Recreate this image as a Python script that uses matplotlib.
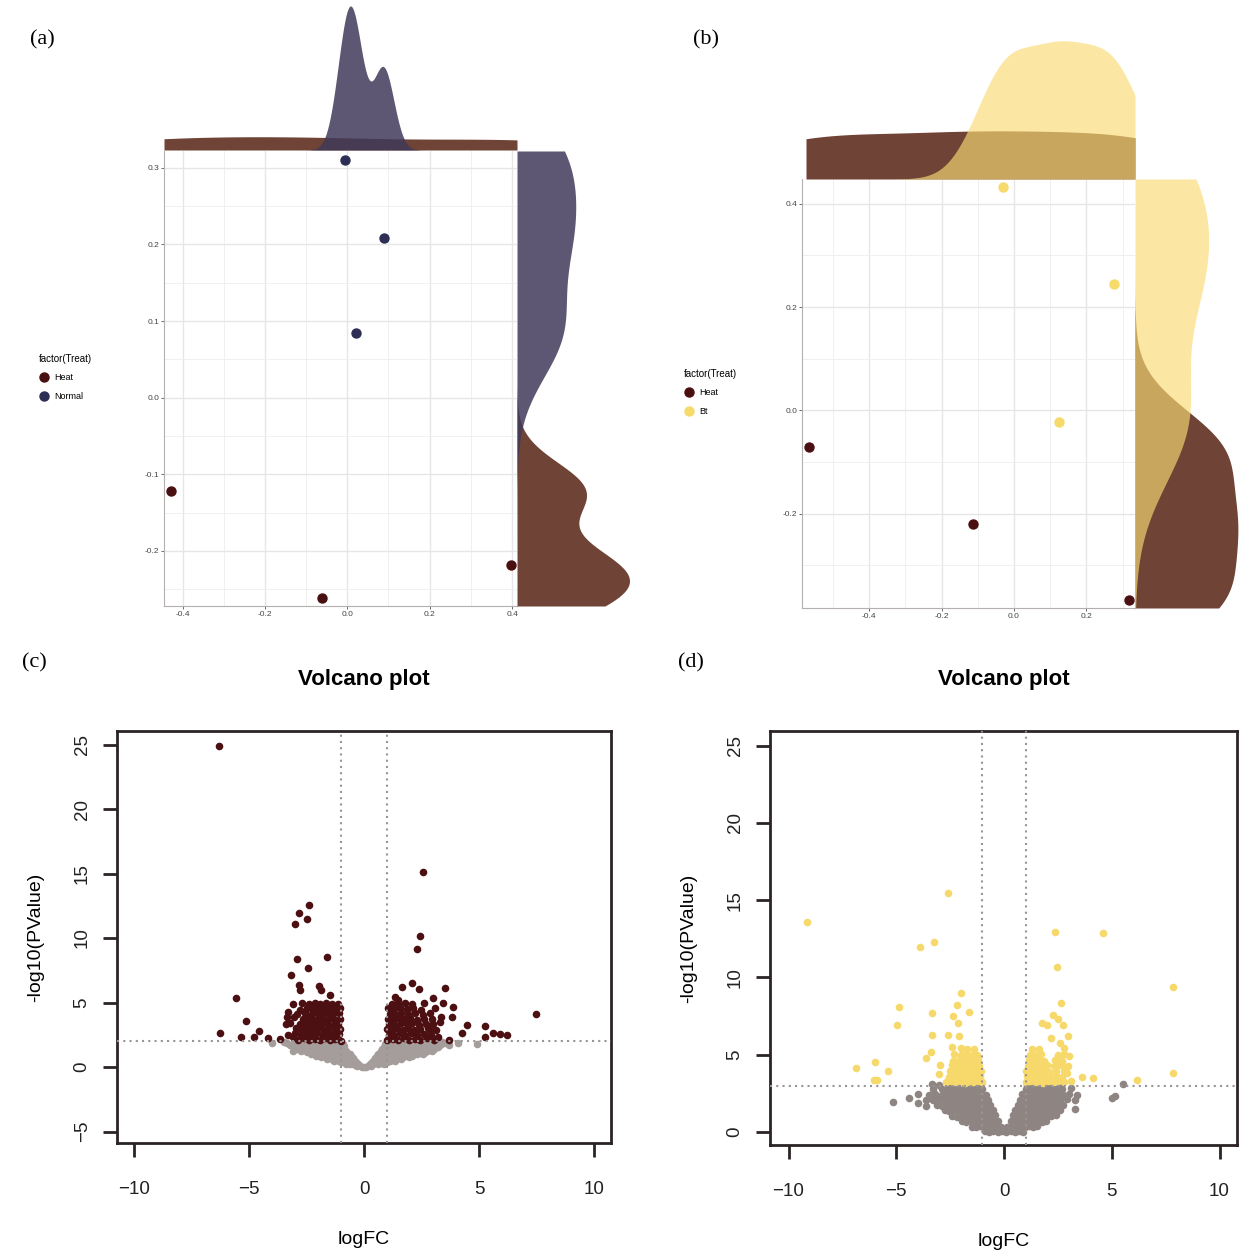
import numpy as np
import matplotlib
matplotlib.use("Agg")
import matplotlib.pyplot as plt
from matplotlib.lines import Line2D

plt.rcParams['font.family'] = ['Liberation Sans', 'DejaVu Sans']

# ---------------- data: PCA-like scatter (a) ----------------
heat_a_x = [-0.427, -0.062, 0.398]
heat_a_y = [-0.122, -0.262, -0.218]
normal_x = [-0.005, 0.088, 0.020]
normal_y = [0.310, 0.208, 0.084]

# ---------------- data: scatter (b) ----------------
heat_b_x = [-0.566, -0.114, 0.318]
heat_b_y = [-0.072, -0.221, -0.367]
bt_x = [-0.031, 0.276, 0.124]
bt_y = [0.433, 0.244, -0.0225]

# ---------------- data: volcano (c) ----------------
c_sig = [
    (-6.29, 24.9), (2.58, 15.1), (-2.39, 12.56), (-2.81, 11.96), (-2.49, 11.45), (-2.99, 11.06),
    (2.42, 10.18), (2.32, 9.12), (-2.91, 8.4), (-1.59, 8.5), (-2.42, 7.65), (-3.17, 7.11),
    (-2.81, 6.36), (-2.8, 5.97), (-1.94, 6.28), (-1.87, 5.97), (-1.48, 5.58), (-5.57, 5.35),
    (-5.13, 3.57), (-6.26, 2.66), (-5.36, 2.3), (-4.78, 2.35), (-4.55, 2.82), (-4.17, 2.22),
    (-3.65, 2.14), (-3.35, 3.9), (-3.4, 3.3),
    (1.64, 6.18), (2.09, 6.49), (2.41, 6.07), (3.54, 6.12), (2.99, 5.35), (3.45, 4.99),
    (3.88, 4.68), (3.81, 3.9), (4.49, 3.26), (4.25, 2.66), (5.28, 3.18), (5.26, 2.35),
    (5.62, 2.66), (5.91, 2.56), (6.23, 2.51), (7.48, 4.11), (3.7, 2.1), (3.3, 3.5),
    (2.87, 2.9), (3.2, 2.3), (1.35, 5.4), (1.5, 5.2),
    # dense left block
    (-1.02, 2.05), (-1.25, 2.18), (-1.48, 2.1), (-1.7, 2.22), (-1.93, 2.08), (-2.15, 2.2),
    (-2.38, 2.12), (-2.6, 2.25), (-2.85, 2.1), (-3.1, 2.3),
    (-1.1, 2.55), (-1.33, 2.48), (-1.57, 2.6), (-1.8, 2.5), (-2.03, 2.62), (-2.27, 2.47),
    (-2.5, 2.58), (-2.75, 2.52), (-3.0, 2.65), (-3.3, 2.45),
    (-1.05, 2.95), (-1.28, 2.88), (-1.52, 3.0), (-1.75, 2.9), (-1.98, 3.02), (-2.2, 2.86),
    (-2.45, 2.97), (-2.68, 2.9), (-2.95, 3.05),
    (-1.12, 3.35), (-1.36, 3.28), (-1.6, 3.4), (-1.83, 3.3), (-2.07, 3.38), (-2.3, 3.25),
    (-2.55, 3.36), (-2.8, 3.3), (-3.2, 3.45),
    (-1.04, 3.75), (-1.27, 3.68), (-1.5, 3.8), (-1.72, 3.7), (-1.95, 3.78), (-2.18, 3.66),
    (-2.42, 3.76), (-2.65, 3.7), (-3.05, 3.85),
    (-1.1, 4.15), (-1.34, 4.08), (-1.58, 4.2), (-1.82, 4.1), (-2.05, 4.18), (-2.3, 4.05),
    (-2.55, 4.2), (-2.9, 4.12), (-3.3, 4.3),
    (-1.06, 4.55), (-1.3, 4.48), (-1.54, 4.6), (-1.78, 4.5), (-2.0, 4.62), (-2.25, 4.5),
    (-2.5, 4.58), (-2.8, 4.45),
    (-1.15, 4.92), (-1.4, 4.85), (-1.65, 4.95), (-1.9, 4.88), (-2.15, 4.97), (-2.4, 4.86),
    (-2.7, 4.95), (-3.1, 4.9),
    # dense right block
    (1.02, 2.08), (1.25, 2.2), (1.48, 2.1), (1.72, 2.22), (1.95, 2.06), (2.2, 2.18),
    (2.45, 2.1), (2.75, 2.24), (3.05, 2.12),
    (1.08, 2.52), (1.32, 2.46), (1.55, 2.6), (1.8, 2.5), (2.05, 2.62), (2.3, 2.48),
    (2.6, 2.56), (2.9, 2.45),
    (1.0, 2.92), (1.22, 2.86), (1.45, 3.0), (1.7, 2.9), (1.93, 3.02), (2.18, 2.88),
    (2.45, 2.98), (2.8, 3.05), (3.15, 2.9),
    (1.1, 3.33), (1.35, 3.26), (1.6, 3.4), (1.85, 3.3), (2.1, 3.38), (2.38, 3.24),
    (2.7, 3.36), (3.0, 3.3),
    (1.03, 3.74), (1.27, 3.68), (1.5, 3.8), (1.75, 3.7), (2.0, 3.78), (2.3, 3.66),
    (2.6, 3.75), (2.95, 3.7), (3.35, 3.85),
    (1.12, 4.14), (1.38, 4.06), (1.62, 4.2), (1.9, 4.1), (2.2, 4.16), (2.55, 4.05), (2.85, 4.2),
    (1.05, 4.55), (1.3, 4.48), (1.56, 4.6), (1.85, 4.5), (2.15, 4.58), (2.5, 4.45), (3.1, 4.55),
    (1.2, 4.92), (1.5, 4.85), (1.8, 4.96), (2.1, 4.88), (2.6, 4.95),
]
c_ns = [
    (-0.3, 0.08), (-0.1, 0.02), (0.1, 0.04), (0.3, 0.1),
    (-0.6, 0.22), (-0.4, 0.18), (-0.2, 0.15), (0.0, 0.0), (0.2, 0.16), (0.4, 0.2), (0.6, 0.24),
    (-0.8, 0.25), (0.85, 0.26),
    (-1.0, 0.38), (-0.75, 0.3), (-0.5, 0.35), (-0.3, 0.28), (0.3, 0.3), (0.5, 0.36), (0.75, 0.32), (1.0, 0.4),
    (-1.3, 0.48), (-1.1, 0.5), (-0.9, 0.46), (-0.65, 0.47), (-0.4, 0.45), (0.4, 0.47), (0.65, 0.5),
    (0.9, 0.46), (1.15, 0.5), (1.35, 0.48),
    (-1.6, 0.62), (-1.35, 0.58), (-1.1, 0.65), (-0.85, 0.6), (-0.55, 0.56), (0.55, 0.6), (0.85, 0.58),
    (1.1, 0.64), (1.35, 0.6), (1.6, 0.66),
    (-1.85, 0.74), (-1.6, 0.76), (-1.4, 0.72), (-1.2, 0.76), (-0.95, 0.74), (-0.7, 0.72), (-0.48, 0.7),
    (0.48, 0.72), (0.7, 0.76), (0.95, 0.72), (1.2, 0.75), (1.45, 0.72), (1.7, 0.76), (1.95, 0.74),
    (-2.1, 0.88), (-1.85, 0.84), (-1.6, 0.9), (-1.35, 0.85), (-1.1, 0.9), (-0.85, 0.86), (-0.55, 0.82),
    (0.55, 0.85), (0.85, 0.88), (1.1, 0.84), (1.35, 0.9), (1.6, 0.86), (1.85, 0.9), (2.1, 0.85),
    (-2.3, 0.98), (-2.05, 1.0), (-1.8, 0.97), (-1.55, 1.02), (-1.3, 0.98), (-1.05, 1.0), (-0.8, 0.98),
    (-0.62, 1.0), (0.62, 0.98), (0.82, 1.02), (1.05, 0.97), (1.3, 1.0), (1.55, 0.98), (1.8, 1.02),
    (2.05, 0.97), (2.3, 1.0), (2.55, 0.98),
    (-2.5, 1.15), (-2.25, 1.1), (-2.0, 1.16), (-1.75, 1.1), (-1.5, 1.14), (-1.25, 1.08), (-1.0, 1.15),
    (-0.72, 1.1), (0.68, 1.12), (0.9, 1.08), (1.15, 1.15), (1.4, 1.1), (1.65, 1.16), (1.9, 1.1),
    (2.15, 1.14), (2.4, 1.08), (2.65, 1.15),
    (-2.75, 1.27), (-2.5, 1.3), (-2.25, 1.25), (-2.0, 1.28), (-1.75, 1.25), (-1.5, 1.3), (-1.25, 1.26),
    (-1.0, 1.28), (-0.8, 1.25), (0.75, 1.27), (1.0, 1.3), (1.25, 1.25), (1.5, 1.28), (1.75, 1.24),
    (2.0, 1.29), (2.25, 1.26), (2.5, 1.3), (2.75, 1.26), (2.95, 1.28),
    (-2.9, 1.42), (-2.65, 1.38), (-2.4, 1.44), (-2.15, 1.38), (-1.9, 1.42), (-1.65, 1.36), (-1.4, 1.44),
    (-1.15, 1.4), (-0.9, 1.45), (0.8, 1.42), (1.05, 1.38), (1.3, 1.44), (1.55, 1.38), (1.8, 1.42),
    (2.05, 1.36), (2.3, 1.44), (2.55, 1.4), (2.8, 1.45), (3.05, 1.38),
    (-3.05, 1.55), (-2.8, 1.58), (-2.55, 1.54), (-2.3, 1.57), (-2.05, 1.55), (-1.8, 1.58), (-1.55, 1.54),
    (-1.3, 1.57), (-1.05, 1.55), (-0.85, 1.6), (0.85, 1.58), (1.0, 1.55), (1.25, 1.58), (1.5, 1.54),
    (1.75, 1.57), (2.0, 1.55), (2.25, 1.58), (2.5, 1.54), (2.75, 1.57), (3.0, 1.55), (3.2, 1.58),
    (-3.2, 1.72), (-2.9, 1.66), (-2.6, 1.74), (-2.35, 1.68), (-2.1, 1.72), (-1.85, 1.66), (-1.6, 1.74),
    (-1.35, 1.68), (-1.1, 1.72), (-0.92, 1.8), (0.92, 1.78), (1.1, 1.7), (1.35, 1.74), (1.6, 1.68),
    (1.85, 1.72), (2.1, 1.66), (2.35, 1.74), (2.6, 1.68), (2.9, 1.72), (3.3, 1.7),
    (-3.35, 1.83), (-3.05, 1.85), (-2.75, 1.82), (-2.5, 1.86), (-2.25, 1.83), (-2.0, 1.85), (-1.7, 1.82),
    (-1.45, 1.86), (-1.2, 1.83), (-0.98, 1.88), (0.98, 1.86), (1.25, 1.83), (1.45, 1.86), (1.7, 1.82),
    (2.0, 1.85), (2.25, 1.82), (2.5, 1.86), (2.8, 1.83), (3.1, 1.85), (3.5, 1.84),
    (-3.5, 1.95), (-3.0, 1.92), (-2.7, 1.96), (-2.4, 1.9), (-2.1, 1.95), (-1.8, 1.9), (-1.5, 1.96),
    (-1.2, 1.92), (-1.0, 1.97), (1.0, 1.95), (1.2, 1.9), (1.5, 1.96), (1.8, 1.92), (2.1, 1.96),
    (2.4, 1.9), (2.7, 1.95), (3.0, 1.92), (3.4, 1.95), (4.1, 1.9),
    (-3.1, 1.27), (4.9, 1.8), (3.7, 1.7), (-4.0, 1.9),
]

# ---------------- data: volcano (d) ----------------
d_sig = [
    (-9.13, 13.59), (-2.58, 15.47), (-3.88, 12.0), (-3.25, 12.28), (2.35, 12.97), (4.58, 12.9),
    (2.47, 10.66), (7.83, 9.41), (2.63, 8.37), (-2.01, 9.02), (-4.86, 8.07), (-4.98, 6.93),
    (-3.33, 7.68), (-1.61, 7.75), (-2.2, 8.22), (-2.35, 7.5), (-2.12, 7.03), (-3.33, 6.28),
    (-2.6, 6.28), (-2.1, 6.2), (-3.4, 5.2), (-3.6, 4.8), (-2.97, 4.34), (-3.0, 3.75),
    (-6.87, 4.14), (-5.99, 4.51), (-5.38, 3.97), (-6.05, 3.36), (-5.88, 3.36),
    (2.26, 7.57), (1.75, 7.03), (1.98, 6.9), (2.5, 7.3), (2.74, 6.9), (2.98, 6.23), (2.2, 6.1),
    (2.6, 5.74), (2.78, 5.42), (2.5, 4.9), (3.0, 4.9), (2.85, 4.2), (2.9, 3.8), (3.6, 3.54),
    (4.14, 3.5), (6.16, 3.36), (7.86, 3.84),
    # dense left block
    (-1.02, 3.25), (-1.22, 3.3), (-1.42, 3.22), (-1.62, 3.28), (-1.82, 3.2), (-2.02, 3.3),
    (-2.22, 3.24), (-2.45, 3.3), (-2.7, 3.22),
    (-1.1, 3.6), (-1.3, 3.55), (-1.5, 3.64), (-1.7, 3.58), (-1.9, 3.62), (-2.1, 3.55), (-2.3, 3.63), (-2.55, 3.58),
    (-1.05, 3.95), (-1.25, 3.9), (-1.45, 4.0), (-1.65, 3.93), (-1.85, 3.98), (-2.05, 3.9), (-2.28, 3.97), (-2.5, 3.92),
    (-1.15, 4.3), (-1.35, 4.25), (-1.55, 4.34), (-1.75, 4.28), (-1.95, 4.32), (-2.18, 4.26), (-2.4, 4.33),
    (-1.2, 4.65), (-1.4, 4.6), (-1.62, 4.68), (-1.85, 4.62), (-2.1, 4.66), (-2.35, 4.6),
    (-1.25, 5.0), (-1.5, 4.96), (-1.75, 5.04), (-2.0, 4.98), (-2.3, 5.02),
    (-1.4, 5.4), (-1.7, 5.35), (-2.0, 5.45), (-2.4, 5.5),
    # dense right block
    (1.02, 3.25), (1.22, 3.3), (1.42, 3.22), (1.62, 3.28), (1.82, 3.2), (2.02, 3.3), (2.25, 3.24),
    (2.5, 3.3), (2.8, 3.22), (3.1, 3.28),
    (1.08, 3.6), (1.28, 3.55), (1.48, 3.64), (1.7, 3.58), (1.92, 3.62), (2.15, 3.55), (2.4, 3.63), (2.7, 3.58),
    (1.04, 3.95), (1.24, 3.9), (1.45, 4.0), (1.66, 3.93), (1.88, 3.98), (2.1, 3.9), (2.4, 3.97), (2.8, 3.92),
    (1.1, 4.3), (1.3, 4.25), (1.52, 4.34), (1.75, 4.28), (2.0, 4.32), (2.3, 4.26), (2.6, 4.33), (2.95, 4.28),
    (1.15, 4.65), (1.38, 4.6), (1.6, 4.68), (1.85, 4.62), (2.35, 4.66), (2.7, 4.6),
    (1.2, 5.0), (1.45, 4.96), (1.7, 5.04), (2.5, 5.0), (2.8, 5.05),
    (1.3, 5.4), (1.6, 5.35),
]
d_ns = [
    (-0.9, 0.05), (-0.7, 0.0), (-0.5, 0.06), (-0.3, 0.0), (-0.1, 0.04), (0.1, 0.0), (0.3, 0.05),
    (0.5, 0.0), (0.7, 0.06), (0.9, 0.02),
    (-1.5, 0.35), (-1.3, 0.3), (-1.1, 0.38), (-0.9, 0.32), (-0.7, 0.36), (-0.5, 0.3), (-0.3, 0.34),
    (-0.15, 0.3), (0.15, 0.32), (0.35, 0.36), (0.55, 0.3), (0.75, 0.35), (0.95, 0.3), (1.15, 0.37),
    (1.35, 0.32), (1.55, 0.36),
    (-1.95, 0.7), (-1.75, 0.66), (-1.55, 0.72), (-1.35, 0.68), (-1.15, 0.73), (-0.95, 0.67), (-0.75, 0.7),
    (-0.5, 0.66), (-0.3, 0.72), (0.3, 0.7), (0.5, 0.66), (0.75, 0.72), (0.95, 0.68), (1.15, 0.72),
    (1.35, 0.66), (1.55, 0.7), (1.75, 0.67), (1.95, 0.72),
    (-2.4, 1.05), (-2.2, 1.0), (-2.0, 1.08), (-1.8, 1.02), (-1.6, 1.06), (-1.4, 1.0), (-1.2, 1.08),
    (-1.0, 1.03), (-0.8, 1.06), (-0.55, 1.02), (-0.4, 1.1), (0.4, 1.08), (0.55, 1.02), (0.8, 1.06),
    (1.0, 1.0), (1.2, 1.07), (1.4, 1.02), (1.6, 1.08), (1.8, 1.0), (2.0, 1.06), (2.2, 1.02), (2.4, 1.08),
    (-2.75, 1.4), (-2.55, 1.36), (-2.35, 1.42), (-2.15, 1.37), (-1.95, 1.43), (-1.75, 1.38), (-1.55, 1.42),
    (-1.35, 1.36), (-1.15, 1.41), (-0.95, 1.38), (-0.75, 1.43), (-0.52, 1.4), (0.52, 1.42), (0.75, 1.37),
    (0.95, 1.43), (1.15, 1.38), (1.35, 1.42), (1.55, 1.36), (1.75, 1.41), (1.95, 1.38), (2.15, 1.43),
    (2.35, 1.37), (2.6, 1.42),
    (-3.1, 1.75), (-2.9, 1.7), (-2.7, 1.77), (-2.5, 1.72), (-2.3, 1.76), (-2.1, 1.7), (-1.9, 1.78),
    (-1.7, 1.72), (-1.5, 1.76), (-1.3, 1.7), (-1.1, 1.77), (-0.9, 1.72), (-0.65, 1.76), (0.65, 1.74),
    (0.9, 1.7), (1.1, 1.77), (1.3, 1.72), (1.5, 1.76), (1.7, 1.7), (1.9, 1.77), (2.1, 1.72),
    (2.3, 1.76), (2.5, 1.7), (2.75, 1.75),
    (-3.6, 2.1), (-3.3, 2.05), (-3.0, 2.12), (-2.8, 2.06), (-2.6, 2.1), (-2.4, 2.05), (-2.2, 2.12),
    (-2.0, 2.07), (-1.8, 2.11), (-1.6, 2.05), (-1.4, 2.12), (-1.2, 2.06), (-1.0, 2.1), (-0.75, 2.08),
    (0.75, 2.1), (1.0, 2.06), (1.2, 2.12), (1.4, 2.05), (1.6, 2.11), (1.8, 2.06), (2.0, 2.12),
    (2.2, 2.05), (2.4, 2.1), (2.6, 2.06), (2.9, 2.12), (3.3, 2.08),
    (-4.0, 2.45), (-3.5, 2.4), (-3.2, 2.47), (-2.9, 2.42), (-2.65, 2.46), (-2.45, 2.4), (-2.25, 2.47),
    (-2.05, 2.42), (-1.85, 2.46), (-1.65, 2.4), (-1.45, 2.47), (-1.25, 2.41), (-1.05, 2.46), (-0.85, 2.42),
    (0.85, 2.45), (1.05, 2.4), (1.25, 2.47), (1.45, 2.41), (1.65, 2.46), (1.85, 2.4), (2.05, 2.47),
    (2.25, 2.42), (2.5, 2.46), (2.75, 2.4), (3.0, 2.46), (3.4, 2.42),
    (-3.3, 2.8), (-2.9, 2.76), (-2.6, 2.82), (-2.4, 2.77), (-2.2, 2.81), (-2.0, 2.75), (-1.8, 2.82),
    (-1.6, 2.77), (-1.4, 2.81), (-1.2, 2.76), (-1.0, 2.8), (1.0, 2.78), (1.2, 2.82), (1.4, 2.76),
    (1.6, 2.81), (1.8, 2.77), (2.0, 2.82), (2.2, 2.76), (2.4, 2.8), (2.7, 2.77), (3.1, 2.82),
    (-3.35, 3.1), (-3.0, 3.05), (-2.6, 3.08), (-2.2, 3.04), (-1.8, 3.07), (-1.4, 3.05), (-1.05, 3.08),
    (1.05, 3.06), (1.4, 3.04), (1.8, 3.08), (2.2, 3.05), (2.6, 3.07),
    (5.54, 3.08), (5.15, 2.33), (5.0, 2.2), (-5.14, 1.96), (3.3, 1.5), (-4.4, 2.2), (-4.0, 1.9), (-3.6, 1.7),
]

W, H = 1240, 1258
fig = plt.figure(figsize=(W / 100, H / 100), dpi=100)


def add_px(l, t, r, b):
    return fig.add_axes([l / W, 1 - b / H, (r - l) / W, (b - t) / H])


def bw_nrd0(v):
    v = np.asarray(v, float)
    q75, q25 = np.percentile(v, [75, 25])
    lo = min(v.std(ddof=1), (q75 - q25) / 1.34)
    return 0.9 * lo * len(v) ** -0.2


def kde(v, grid):
    v = np.asarray(v, float)
    bw = bw_nrd0(v)
    z = (grid[:, None] - v[None, :]) / bw
    return np.exp(-0.5 * z ** 2).sum(1) / (len(v) * bw * np.sqrt(2 * np.pi))


heat_pt = '#4a0f10'
heat_fill = '#6f4335'


def scatter_panel(main, top, right, xlim, ylim, xmaj, xmin, ymaj, ymin, groups):
    main.set_xlim(xlim)
    main.set_ylim(ylim)
    main.set_xticks(xmaj)
    main.set_xticks(xmin, minor=True)
    main.set_yticks(ymaj)
    main.set_yticks(ymin, minor=True)
    main.set_xticklabels(['%.1f' % t for t in xmaj])
    main.set_yticklabels(['%.1f' % t for t in ymaj])
    main.grid(which='major', color='#e6e6e6', lw=1.0)
    main.grid(which='minor', color='#eeeeee', lw=0.6)
    main.set_axisbelow(True)
    for s in ['top', 'right']:
        main.spines[s].set_visible(False)
    for s in ['left', 'bottom']:
        main.spines[s].set_color('#b5b0ae')
        main.spines[s].set_linewidth(0.8)
    main.tick_params(which='major', length=2, width=0.6, color='#555555',
                     labelsize=6, labelcolor='#444444', pad=1.5)
    main.tick_params(which='minor', length=0)

    gx = np.linspace(xlim[0], xlim[1], 400)
    gy = np.linspace(ylim[0], ylim[1], 400)
    dx = [kde(g['x'], gx) for g in groups]
    dy = [kde(g['y'], gy) for g in groups]
    for g, d in zip(groups, dx):
        top.fill_between(gx, 0, d, color=g['fill'], alpha=g['alpha'], lw=0)
    for g, d in zip(groups, dy):
        right.fill_betweenx(gy, 0, d, color=g['fill'], alpha=g['alpha'], lw=0)
    top.set_xlim(xlim)
    top.set_ylim(0, max(d.max() for d in dx) * 1.02)
    right.set_ylim(ylim)
    right.set_xlim(0, max(d.max() for d in dy) * 1.04)
    top.axis('off')
    right.axis('off')

    for g in groups:
        main.scatter(g['x'], g['y'], s=42, color=g['pt'], zorder=3, clip_on=False)


# ---------------- panel (a) ----------------
ax_a = add_px(164, 151, 517, 606)
top_a = add_px(164, 3, 517, 150)
right_a = add_px(517, 151, 634, 606)
scatter_panel(ax_a, top_a, right_a, (-0.445, 0.412), (-0.272, 0.322),
              [-0.4, -0.2, 0.0, 0.2, 0.4], [-0.3, -0.1, 0.1, 0.3],
              [-0.2, -0.1, 0.0, 0.1, 0.2, 0.3], [-0.25, -0.15, -0.05, 0.05, 0.15, 0.25],
              [dict(x=heat_a_x, y=heat_a_y, pt=heat_pt, fill=heat_fill, alpha=1.0),
               dict(x=normal_x, y=normal_y, pt='#2d2e55', fill='#413a5a', alpha=0.85)])

# ---------------- panel (b) ----------------
ax_b = add_px(802, 179, 1135, 608)
top_b = add_px(806, 38, 1135, 179)
right_b = add_px(1135, 179, 1242, 608)
scatter_panel(ax_b, top_b, right_b, (-0.585, 0.334), (-0.383, 0.448),
              [-0.4, -0.2, 0.0, 0.2], [-0.5, -0.3, -0.1, 0.1, 0.3],
              [-0.2, 0.0, 0.2, 0.4], [-0.3, -0.1, 0.1, 0.3],
              [dict(x=heat_b_x, y=heat_b_y, pt=heat_pt, fill=heat_fill, alpha=1.0),
               dict(x=bt_x, y=bt_y, pt='#f7da6c', fill='#f9db74', alpha=0.66)])


def legend(labels, colors, anchor):
    handles = [Line2D([], [], ls='', marker='o', ms=6.5, color=c) for c in colors]
    leg = fig.legend(handles, labels, title='factor(Treat)', loc='upper left',
                     bbox_to_anchor=(anchor[0] / W, 1 - anchor[1] / H),
                     frameon=False, fontsize=6.5, title_fontsize=7,
                     handletextpad=0.7, labelspacing=1.05, borderaxespad=0,
                     handlelength=1.0, borderpad=0)
    leg._legend_box.align = 'left'


legend(['Heat', 'Normal'], [heat_pt, '#2d2e55'], (39, 354))
legend(['Heat', 'Bt'], [heat_pt, '#f7da6c'], (684, 369))


# ---------------- volcano panels ----------------
def volcano(ax, sig, ns, sig_col, ns_col, xlim, ylim, yt, hline):
    nx, ny = zip(*ns)
    sx, sy = zip(*sig)
    ax.scatter(nx, ny, s=30, color=ns_col, lw=0, zorder=2)
    ax.scatter(sx, sy, s=30, color=sig_col, lw=0, zorder=3)
    ax.axhline(hline, color='#9a9494', ls=(0, (1, 2)), lw=1.5, zorder=4)
    for v in (-1, 1):
        ax.axvline(v, color='#9a9494', ls=(0, (1, 2)), lw=1.5, zorder=4)
    ax.set_xlim(xlim)
    ax.set_ylim(ylim)
    ax.set_xticks([-10, -5, 0, 5, 10])
    ax.set_xticklabels(['\u221210', '\u22125', '0', '5', '10'])
    ax.set_yticks(yt)
    ax.set_yticklabels([('\u2212%d' % -t) if t < 0 else '%d' % t for t in yt])
    for lab in ax.get_yticklabels():
        lab.set_rotation(90)
        lab.set_va('center')
    for s in ax.spines.values():
        s.set_linewidth(2)
        s.set_color('#2a2424')
    ax.tick_params(direction='out', length=10, width=2, color='#2a2424',
                   labelsize=13.5, labelcolor='#222222', pad=9)
    ax.tick_params(axis='x', pad=17)
    ax.set_title('Volcano plot', fontsize=16, fontweight='bold', pad=33)
    ax.set_xlabel('logFC', fontsize=14, labelpad=24)
    ax.set_ylabel('-log10(PValue)', fontsize=14, labelpad=21)


ax_c = add_px(117, 731, 611, 1143)
volcano(ax_c, c_sig, c_ns, '#4c0f12', '#a59d9b', (-10.74, 10.74), (-5.89, 26.05),
        [-5, 0, 5, 10, 15, 20, 25], 2)

ax_d = add_px(770, 731, 1237, 1145)
volcano(ax_d, d_sig, d_ns, '#f6d96a', '#8e8583', (-10.86, 10.81), (-0.84, 25.95),
        [0, 5, 10, 15, 20, 25], 3)

# panel letters
for lab, px, py in [('(a)', 30, 40), ('(b)', 693, 40), ('(c)', 22, 663), ('(d)', 678, 663)]:
    fig.text(px / W, 1 - py / H, lab, fontsize=16, family='Liberation Serif', va='center', ha='left')

fig.savefig('out.png', dpi=100)
